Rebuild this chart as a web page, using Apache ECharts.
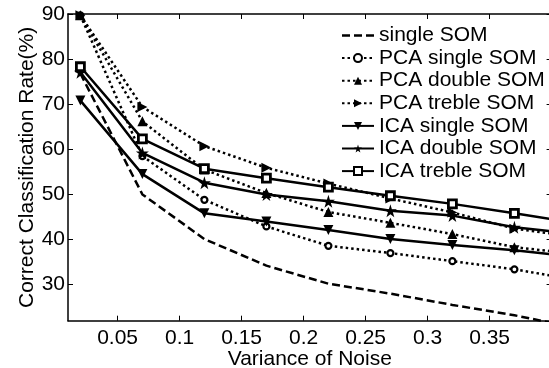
<!DOCTYPE html>
<html>
<head>
<meta charset="utf-8">
<script src="https://cdn.jsdelivr.net/npm/echarts@6/dist/echarts.min.js"></script>
<style>html,body{margin:0;padding:0;background:#fff;}#c{width:549px;height:368px;}</style>
</head>
<body>
<div id="c"></div>
<script>
var noise = [0.02, 0.07, 0.12, 0.17, 0.22, 0.27, 0.32, 0.37, 0.42];
var singleSOM   = [76.8, 50.0, 40.1, 34.2, 30.2, 28.0, 25.5, 23.2, 20.4];
var pcaSingle   = [89.7, 58.5, 48.8, 42.9, 38.6, 37.0, 35.2, 33.4, 31.0];
var pcaDouble   = [89.7, 66.2, 55.5, 50.3, 46.1, 43.7, 41.2, 38.3, 36.8];
var pcaTreble   = [89.7, 69.4, 60.7, 55.9, 52.4, 49.1, 46.0, 42.4, 40.6];
var icaSingle   = [70.8, 54.5, 45.8, 44.0, 42.1, 40.1, 38.8, 37.6, 36.1];
var icaDouble   = [77.1, 59.2, 52.6, 50.0, 48.5, 46.4, 45.3, 42.7, 41.2];
var icaTreble   = [78.3, 62.3, 55.7, 53.6, 51.6, 49.7, 47.9, 45.8, 43.7];
var xTicks = [0.05, 0.1, 0.15, 0.2, 0.25, 0.3, 0.35];
var yTicks = [30, 40, 50, 60, 70, 80, 90];
var seriesNames = ['single SOM', 'PCA single SOM', 'PCA double SOM', 'PCA treble SOM', 'ICA single SOM', 'ICA double SOM', 'ICA treble SOM'];

function pairs(vals) { return vals.map(function (v, i) { return [noise[i], v]; }); }

var FONT = 'Liberation Sans, Arial, sans-serif';
var FS = 21;
var triRight = 'path://M0,0 L10,5 L0,10 Z';
var triDown = 'path://M0,0 L10,0 L5,9 Z';
var star = 'path://M50,0 L61,35 L98,35 L68,57 L79,91 L50,70 L21,91 L32,57 L2,35 L39,35 Z';
var dashIcon = 'path://M0,0 h8 v2.5 h-8 Z M12,0 h8 v2.5 h-8 Z M24,0 h8 v2.5 h-8 Z';

function mk(name, vals, type, symbol, size, fill, bw) {
  return {
    name: name, type: 'line', data: pairs(vals),
    symbol: symbol, symbolSize: size, showSymbol: symbol !== 'none',
    lineStyle: { color: '#000', width: 2.5, type: type },
    itemStyle: { color: fill ? '#000' : '#fff', borderColor: '#000', borderWidth: fill ? 0 : bw },
    clip: true, animation: false
  };
}

var chart = echarts.init(document.getElementById('c'), null, { renderer: 'canvas' });
var axisLine = { show: true, lineStyle: { color: '#000', width: 1.5 } };
var tickStyle = { color: '#000', width: 1 };
chart.setOption({
  backgroundColor: '#fff',
  animation: false,
  grid: { left: 68, top: 14, right: -2.6, bottom: 47.3, containLabel: false, outerBoundsMode: 'none' },
  legend: {
    orient: 'vertical', left: 336, top: 20,
    itemWidth: 32, itemHeight: 10, itemGap: 1.6,
    textStyle: { fontFamily: FONT, fontSize: FS, color: '#000', lineHeight: 21 },
    data: [{ name: seriesNames[0], icon: dashIcon }].concat(seriesNames.slice(1))
  },
  xAxis: [{
    type: 'value', min: 0.01, max: 0.4, position: 'bottom',
    name: 'Variance of Noise', nameLocation: 'middle', nameGap: 28, nameMoveOverlap: false,
    nameTextStyle: { fontFamily: FONT, fontSize: FS, color: '#000' },
    axisLine: axisLine, splitLine: { show: false },
    axisTick: { show: true, inside: true, length: 5, lineStyle: tickStyle, customValues: xTicks },
    axisLabel: { fontFamily: FONT, fontSize: FS, color: '#000', margin: 7, customValues: xTicks }
  }, {
    type: 'value', min: 0.01, max: 0.4, position: 'top',
    axisLine: axisLine, splitLine: { show: false },
    axisTick: { show: true, inside: true, length: 5, lineStyle: tickStyle, customValues: xTicks },
    axisLabel: { show: false }
  }],
  yAxis: [{
    type: 'value', min: 22, max: 90, position: 'left',
    name: 'Correct Classification Rate(%)', nameLocation: 'middle', nameGap: 30, nameMoveOverlap: false,
    nameTextStyle: { fontFamily: FONT, fontSize: FS, color: '#000' },
    axisLine: axisLine, splitLine: { show: false },
    axisTick: { show: true, inside: true, length: 5, lineStyle: tickStyle, customValues: yTicks },
    axisLabel: { fontFamily: FONT, fontSize: FS, color: '#000', margin: 3, customValues: yTicks }
  }, {
    type: 'value', min: 22, max: 90, position: 'right',
    axisLine: axisLine, splitLine: { show: false },
    axisTick: { show: true, inside: true, length: 5, lineStyle: tickStyle, customValues: yTicks },
    axisLabel: { show: false }
  }],
  series: [
    mk(seriesNames[0], singleSOM, [8, 4], 'none', 0, true, 0),
    mk(seriesNames[1], pcaSingle, [2.5, 3], 'circle', 6, false, 2.2),
    mk(seriesNames[2], pcaDouble, [2.5, 3], 'triangle', 10, true, 0),
    mk(seriesNames[3], pcaTreble, [2.5, 3], triRight, 10, true, 0),
    mk(seriesNames[4], icaSingle, 'solid', triDown, 10, true, 0),
    mk(seriesNames[5], icaDouble, 'solid', star, 13, true, 0),
    mk(seriesNames[6], icaTreble, 'solid', 'rect', 8, false, 2.8)
  ]
});
</script>
</body>
</html>
